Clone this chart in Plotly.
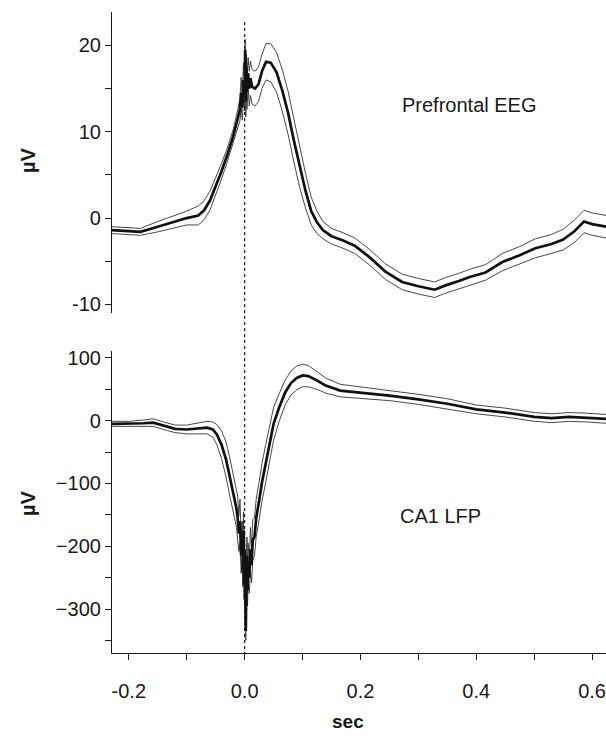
import plotly.graph_objects as go
from plotly.subplots import make_subplots

# time (sec) and mean / sem
t_eeg = [-0.229, -0.2, -0.18, -0.15, -0.12, -0.1, -0.08, -0.07, -0.06, -0.05,
         -0.04, -0.03, -0.02, -0.012, -0.008, -0.006, -0.004, -0.002, 0.0, 0.001,
         0.002, 0.003, 0.004, 0.006, 0.008, 0.01, 0.013, 0.018, 0.024, 0.03,
         0.037, 0.045, 0.055, 0.065, 0.075, 0.085, 0.095, 0.105, 0.115, 0.125,
         0.135, 0.15, 0.17, 0.19, 0.215, 0.243, 0.272, 0.3, 0.328, 0.347,
         0.37, 0.39, 0.416, 0.445, 0.475, 0.502, 0.53, 0.55, 0.57, 0.586,
         0.6, 0.624]
eeg_mean = [-1.4, -1.5, -1.6, -1.0, -0.4, 0.0, 0.3, 0.9, 2.0, 3.6,
            5.4, 7.3, 9.4, 11.5, 12.6, 14.5, 12.8, 16.0, 14.0, 19.5,
            13.5, 17.5, 14.6, 16.8, 15.0, 16.2, 15.2, 15.0, 15.5, 17.0,
            18.1, 18.0, 16.9, 14.8, 12.2, 9.0, 5.9, 3.2, 0.8, -0.5,
            -1.4, -2.1, -2.6, -3.2, -4.5, -6.2, -7.4, -7.9, -8.3, -7.8,
            -7.3, -6.8, -6.3, -5.1, -4.3, -3.5, -3.0, -2.5, -1.5, -0.4,
            -0.7, -1.0]
eeg_sem = [0.4, 0.4, 0.4, 0.6, 0.7, 0.8, 1.1, 1.1, 1.1, 1.0,
           0.9, 0.8, 0.8, 1.0, 1.3, 1.8, 1.4, 2.0, 1.6, 1.2,
           1.8, 1.5, 2.0, 1.8, 2.0, 2.0, 2.0, 2.0, 2.0, 2.0,
           2.1, 2.2, 2.3, 2.4, 2.5, 2.5, 2.3, 2.0, 1.6, 1.3,
           1.0, 0.9, 0.9, 0.9, 0.9, 0.9, 0.9, 0.9, 0.9, 0.9,
           0.9, 0.9, 0.9, 1.0, 1.0, 1.1, 1.1, 1.2, 1.3, 1.3,
           1.3, 1.3]

t_lfp = [-0.229, -0.2, -0.175, -0.158, -0.14, -0.12, -0.1, -0.08, -0.065, -0.055,
         -0.048, -0.04, -0.032, -0.025, -0.018, -0.014, -0.012, -0.01, -0.008, -0.006,
         -0.004, -0.003, -0.002, -0.001, 0.0, 0.001, 0.002, 0.003, 0.004, 0.005,
         0.006, 0.008, 0.01, 0.012, 0.014, 0.017, 0.02, 0.025, 0.03, 0.036,
         0.043, 0.05, 0.06, 0.07, 0.08, 0.09, 0.1, 0.11, 0.125, 0.14,
         0.165, 0.2, 0.25, 0.3, 0.35, 0.4, 0.45, 0.5, 0.53, 0.56,
         0.59, 0.624]
lfp_mean = [-5, -5, -4, -3, -8, -13, -14, -12, -11, -14,
            -22, -38, -62, -92, -122, -140, -155, -180, -160, -215,
            -190, -240, -175, -260, -205, -290, -335, -250, -215, -270,
            -225, -250, -205, -230, -190, -185, -155, -128, -98, -70,
            -35, -5, 22, 45, 60, 68, 72, 71, 64, 56,
            48, 45, 40, 34, 27, 18, 13, 6, 4, 6,
            5, 3]
lfp_sem = [4, 4, 5, 6, 6, 6, 7, 9, 10, 12,
           16, 22, 28, 30, 30, 30, 35, 28, 35, 28,
           30, 25, 30, 25, 30, 20, 15, 28, 30, 25,
           30, 25, 35, 28, 32, 30, 30, 30, 30, 30,
           28, 26, 22, 20, 19, 19, 18, 17, 14, 12,
           10, 9, 8, 8, 8, 7, 7, 7, 7, 7,
           7, 7]

x_ticks = [-0.2, 0.0, 0.2, 0.4, 0.6]
x_labels = ['-0.2', '0.0', '0.2', '0.4', '0.6']
eeg_ticks = [-10, 0, 10, 20]
eeg_labels = ['-10', '0', '10', '20']
lfp_ticks = [-300, -200, -100, 0, 100]
lfp_labels = ['\u2212300', '\u2212200', '\u2212100', '0', '100']

FONT = 'Liberation Sans, Arial, sans-serif'
INK = '#1a1a1a'

fig = make_subplots(rows=2, cols=1, shared_xaxes=True, vertical_spacing=0.0)

panels = [(t_eeg, eeg_mean, eeg_sem, 1), (t_lfp, lfp_mean, lfp_sem, 2)]
for t, m, s, r in panels:
    upper = [a + b for a, b in zip(m, s)]
    lower = [a - b for a, b in zip(m, s)]
    for yy in (upper, lower):
        fig.add_trace(go.Scatter(x=t, y=yy, mode='lines',
                                 line=dict(color='#333333', width=0.9),
                                 showlegend=False, hoverinfo='skip'),
                      row=r, col=1)
    fig.add_trace(go.Scatter(x=t, y=m, mode='lines',
                             line=dict(color='#111111', width=2.7),
                             showlegend=False),
                  row=r, col=1)

axis_common = dict(showgrid=False, zeroline=False, showline=True,
                   linecolor=INK, linewidth=1.2, ticks='outside',
                   ticklen=6, tickwidth=1.2, tickcolor=INK,
                   ticklabeloverflow='allow',
                   tickfont=dict(family=FONT, size=20, color=INK))

fig.update_xaxes(showline=False, showticklabels=False, ticks='',
                 showgrid=False, zeroline=False,
                 range=[-0.229, 0.624], row=1, col=1)
fig.update_xaxes(range=[-0.229, 0.624], tickvals=x_ticks, ticktext=x_labels,
                 minor=dict(dtick=0.1, tick0=0, ticks='outside', ticklen=6,
                            tickwidth=1.2, tickcolor=INK),
                 ticklabelstandoff=14, row=2, col=1, **axis_common)
fig.update_yaxes(range=[-11, 23.87], tickvals=eeg_ticks, ticktext=eeg_labels,
                 minor=dict(dtick=5, tick0=0, ticks='outside', ticklen=6,
                            tickwidth=1.2, tickcolor=INK),
                 ticklabelstandoff=0, domain=[0.5304, 1.0],
                 row=1, col=1, **axis_common)
fig.update_yaxes(range=[-370, 111], tickvals=lfp_ticks, ticktext=lfp_labels,
                 minor=dict(dtick=50, tick0=0, ticks='outside', ticklen=6,
                            tickwidth=1.2, tickcolor=INK),
                 ticklabelstandoff=0, domain=[0.0, 0.4711],
                 row=2, col=1, **axis_common)

# dashed line at t = 0 across both panels
fig.add_shape(type='line', xref='x2', yref='paper', x0=0, x1=0,
              y0=-0.003, y1=0.9875,
              line=dict(color=INK, width=1.2, dash='3px,3px'))

ann_font = dict(family=FONT, size=20, color=INK)
fig.add_annotation(x=0.388, y=13.1, xref='x', yref='y', text='Prefrontal EEG',
                   showarrow=False, font=ann_font)
fig.add_annotation(x=0.338, y=-151.5, xref='x2', yref='y2', text='CA1 LFP',
                   showarrow=False, font=ann_font)
for yp in (0.769, 0.234):
    fig.add_annotation(x=-0.17, y=yp, xref='paper', yref='paper',
                       xanchor='center', yanchor='middle',
                       text='<b>\u00b5V</b>', textangle=-90, showarrow=False,
                       font=dict(family=FONT, size=20, color=INK))
fig.add_annotation(x=0.478, y=-0.1076, xref='paper', yref='paper',
                   xanchor='center', yanchor='middle',
                   text='<b>sec</b>', showarrow=False,
                   font=dict(family=FONT, size=19, color=INK))

fig.update_layout(width=606, height=739, plot_bgcolor='white',
                  paper_bgcolor='white',
                  margin=dict(l=112, r=0, t=12, b=86, autoexpand=False))

fig.write_html("out.html", config={'displayModeBar': False},
               post_script="document.body.style.margin='0';")
